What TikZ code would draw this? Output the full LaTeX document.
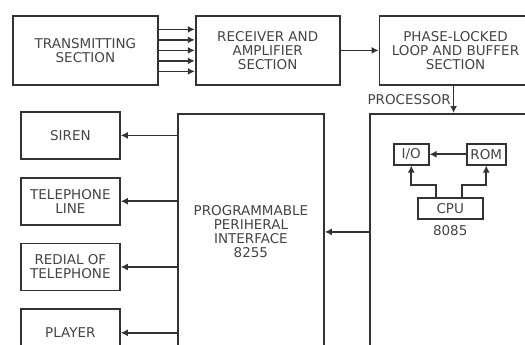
\documentclass[tikz,border=0pt]{standalone}
\usepackage{fontspec}
\setmainfont{DejaVu Sans}
\usetikzlibrary{arrows.meta,positioning}
\definecolor{linegray}{HTML}{333333}
\definecolor{textgray}{HTML}{444444}

\begin{document}
\begin{tikzpicture}[x=1pt, y=-1pt,
  box/.style={draw=linegray, line width=1.8pt, align=center, inner sep=1pt, text=textgray, font=\fontsize{13.5}{14}\selectfont},
  side/.style={box, minimum width=99pt, minimum height=47pt},
  chip/.style={box, line width=1.5pt, minimum height=21pt},
  arr/.style={-{Latex[length=7pt,width=7pt]}, draw=linegray, line width=1.6pt},
  lbl/.style={text=textgray, font=\fontsize{13.5}{14}\selectfont}]
  \useasboundingbox (0,0) rectangle (525,345);
  \clip (0,0) rectangle (525,345);
  % top row
  \node[box, minimum width=145pt, minimum height=69pt, anchor=north west] (trans) at (12,15) {TRANSMITTING\\SECTION};
  \node[box, minimum width=144pt, minimum height=69pt, right=36pt of trans] (recv) {RECEIVER AND\\AMPLIFIER\\SECTION};
  \node[box, minimum width=152pt, minimum height=69pt, right=38pt of recv] (pll) {PHASE-LOCKED\\LOOP AND BUFFER\\SECTION};
  % big blocks
  \node[box, minimum width=146pt, minimum height=236pt, anchor=north west] (ppi) at (177,113) {PROGRAMMABLE\\PERIHERAL\\INTERFACE\\8255};
  \node[box, minimum width=160pt, minimum height=236pt, anchor=north west] (proc) at (369,113) {};
  % outputs
  \node[side, anchor=north west] (siren) at (20,111) {SIREN};
  \node[side, below=17pt of siren] (tel) {TELEPHONE\\LINE};
  \node[side, below=17pt of tel] (redial) {REDIAL OF\\TELEPHONE};
  \node[side, below=17pt of redial] (player) {PLAYER};
  % inside the 8085
  \node[chip, minimum width=35pt, anchor=north west] (io) at (393,143) {I/O};
  \node[chip, minimum width=39pt, anchor=north west] (rom) at (466,143) {ROM};
  \node[chip, minimum width=65pt, anchor=north west] (cpu) at (417,197) {CPU};
  \node[lbl, below=2pt of cpu] (chipname) {8085};

  \foreach \d in {-21,-10.5,0,10.5,21}
    \draw[arr] ([yshift=\d pt]trans.east) -- ([yshift=\d pt]recv.west);
  \draw[arr] (recv.east) -- (pll.west);
  \draw[arr] ([xshift=75pt]pll.south west) coordinate (tap) -- (tap |- proc.north)
    node[lbl, midway, left, inner sep=2pt] {PROCESSOR};
  \draw[arr] (proc.west) -- (ppi.east);
  \foreach \n in {siren,tel,redial,player}
    \draw[arr] (\n -| ppi.west) -- (\n.east);
  \draw[arr] (rom.west) -- (io.east);
  \draw[arr] ([xshift=-14pt]cpu.north) -- ++(0,12pt) -| (io.south);
  \draw[arr] ([xshift=12pt]cpu.north) -- ++(0,12pt) -| (rom.south);
\end{tikzpicture}
\end{document}
